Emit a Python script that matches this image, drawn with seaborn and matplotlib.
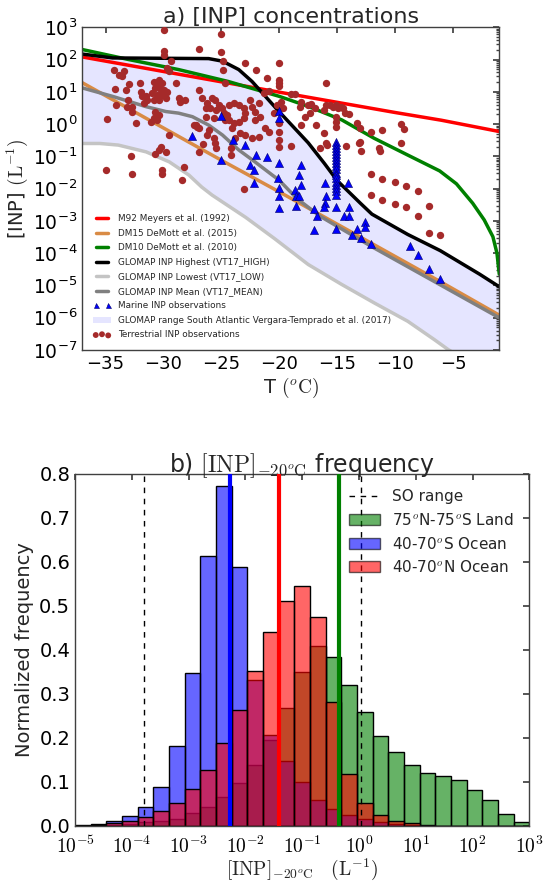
import numpy as np
import matplotlib
matplotlib.use("Agg")
import matplotlib.pyplot as plt
import seaborn as sns
from matplotlib.lines import Line2D
from matplotlib.patches import Patch
from matplotlib.ticker import FixedLocator, LogLocator, NullLocator, NullFormatter

# ---------------- panel a: parameterisation curves (T in degC, log10 [INP] in L^-1) ----------------
m92_T = [-37, -30, -20, -10, -6, -1]
m92_log = [2.08, 1.63, 0.99, 0.36, 0.12, -0.23]

dm15_T = [-37, -30, -25, -20, -15, -10, -6, -1]
dm15_log = [1.28, -0.12, -1.12, -2.10, -3.10, -4.10, -4.90, -5.92]

dm10_T = [-37, -33, -28.7, -24.4, -20, -17.5, -14.6, -11.8, -8.9, -6.15, -4.7, -3.3, -2.3, -1.55, -1.2, -1.0]
dm10_log = [2.31, 2.0, 1.69, 1.32, 0.86, 0.55, 0.13, -0.44, -0.96, -1.45, -1.85, -2.45, -2.97, -3.49, -4.0, -4.65]

high_T = [-37, -34.4, -26.1, -24.9, -23.5, -22.35, -21.2, -20.1, -17.5, -16.1, -15.0, -13.0, -12.0, -8.9, -6.1, -2.7, -1.0]
high_log = [2.17, 2.05, 2.03, 1.95, 1.69, 1.32, 0.86, 0.42, -0.58, -1.22, -1.75, -2.45, -2.79, -3.42, -3.92, -4.65, -5.04]

low_T = [-37, -35.5, -33.9, -31.5, -29.5, -27.8, -26.7, -25.8, -22.9, -20.4, -17.5, -14.6, -11.8, -8.9, -6.6, -5.4, -3.0, -1.0]
low_log = [-0.60, -0.60, -0.65, -0.86, -1.17, -1.58, -1.95, -2.20, -2.89, -3.55, -4.35, -4.97, -5.54, -6.11, -6.68, -6.99, -7.50, -7.90]

mean_T = [-37, -34.4, -31.5, -29.8, -28.7, -27.5, -26.1, -24.9, -23.5, -22.1, -20.6, -20.0, -18.5, -16.5, -12, -6, -1]
mean_log = [1.12, 0.86, 0.54, 0.39, 0.34, 0.23, -0.03, -0.34, -0.80, -1.17, -1.58, -1.74, -2.30, -2.85, -3.80, -5.00, -6.00]

# ---------------- panel a: observations ----------------
terr_T = [
    -34.86, -34.94, -34.19, -34.14, -33.85, -33.62, -33.42, -34.28, -33.27, -32.99,
    -33.04, -33.13, -32.76, -32.70, -32.76, -32.78, -32.35, -32.04, -31.98, -31.84,
    -31.55, -31.69, -31.40, -30.83, -30.40, -30.11, -30.69, -30.25, -29.97, -30.54,
    -30.11, -30.40, -30.83, -29.82, -29.68, -30.97, -30.40, -30.69, -30.40, -30.83,
    -30.54, -31.12, -29.68, -29.39, -29.53, -28.96, -28.67, -28.53, -28.10, -29.53,
    -30.25, -30.40, -30.69, -29.82, -30.17, -30.11, -28.24, -28.38, -26.95, -26.66,
    -26.37, -26.23, -26.31, -27.23, -27.09, -26.95, -27.38, -26.95, -26.60, -26.23,
    -26.08, -25.80, -25.94, -25.51, -25.45, -25.65, -25.65, -25.51, -25.45, -24.99,
    -24.99, -24.88, -24.88, -24.65, -25.22, -24.93, -24.79, -24.65, -24.36, -23.93,
    -23.50, -23.06, -22.92, -23.06, -23.50, -23.93, -24.36, -24.50, -24.07, -24.21,
    -24.21, -23.78, -23.35, -22.92, -22.49, -22.34, -22.06, -21.77, -21.63, -22.06,
    -22.98, -22.00, -21.05, -22.34, -21.77, -21.19, -20.91, -20.48, -20.19, -20.85,
    -21.34, -29.97, -29.97, -29.97, -26.95,
    -20.04, -20.04, -20.04, -20.04, -15.99, -18.95, -18.66, -19.81, -19.67, -20.04,
    -20.04, -20.04, -20.04, -19.01, -18.09, -17.51, -17.23, -16.94, -17.37, -17.80,
    -18.23, -18.09, -16.80, -16.13, -15.93, -15.64, -15.36, -15.07, -14.93, -14.64,
    -14.49, -14.35, -14.01, -15.07, -15.07, -15.07, -16.13, -15.93, -15.85, -16.51,
    -14.26, -13.26, -13.06, -13.14, -13.00, -12.91, -12.05, -11.10, -11.42, -11.33,
    -9.46, -9.23, -9.46, -12.05, -11.10, -10.04, -9.03,
    -12.05, -11.10, -10.04, -9.03, -8.02, -8.02, -7.07, -7.10, -6.10, -23.01,
]
terr_log = [
    0.16, -1.43, 1.10, 0.58, 1.53, 1.48, 1.63, 1.67, 1.06, 1.24,
    0.75, 0.545, 0.39, 0.52, -1.55, -0.99, 0.046, 1.27, 1.01, 0.86,
    0.86, 0.65, 0.75, 1.32, 1.38, 1.27, 1.12, 1.06, 1.06, 0.91,
    0.91, 0.75, 0.75, 0.80, 1.01, 0.96, 1.22, 0.39, 0.285, 0.18,
    0.13, 0.08, 1.74, 1.95, 1.63, 1.27, 0.80, 0.70, 0.75, -0.34,
    -0.70, -0.80, -0.94, -0.86, -1.43, -1.55, -1.32, -1.74, 1.06, 0.80,
    0.49, 0.65, 0.23, -0.03, -0.08, -0.13, -0.03, -0.86, -0.63, -0.34,
    -0.18, 0.80, 0.49, 0.75, 0.44, 0.18, -0.44, -0.60, -0.75, 2.80,
    2.24, 1.97, 1.69, 1.27, 0.60, 0.49, 0.34, 0.13, 0.60, 0.65,
    0.60, 0.49, 0.34, 0.18, 0.08, 0.025, 0.13, 0.285, -0.13, -0.75,
    -0.96, -0.44, -0.29, -0.34, 0.75, 0.545, 0.39, 0.65, 0.23, 0.13,
    1.89, 1.67, 1.43, -0.44, -0.39, -0.13, -0.23, 0.34, 0.60, 1.03,
    0.96, 2.93, 2.26, 2.15, 2.34,
    1.89, 1.38, 1.27, 1.17, 1.27, 0.93, 0.93, 0.70, 0.49, 0.025,
    -0.23, -0.49, -0.72, -0.68, 0.68, 0.60, 0.62, 0.51, 0.34, 0.23,
    0.545, -0.03, -0.03, 0.44, 0.58, 0.58, 0.545, 0.60, 0.49, 0.545,
    0.49, 0.34, 0.305, 0.23, 0.08, -0.08, -0.29, -0.60, -0.65, -0.73,
    -0.67, 0.025, -0.13, -0.60, -0.55, -0.84, -0.23, -0.18, -0.75, -0.83,
    -0.005, -0.15, -0.60, -1.55, -1.71, -1.79, -1.92,
    -2.21, -2.35, -2.48, -2.56, -2.08, -2.84, -2.54, -3.38, -3.43, -2.01,
]

marine_T = [
    -27.52, -24.99, -24.01, -22.98, -22.00, -21.05, -24.99, -22.55, -22.20, -20.04,
    -22.20, -20.10, -20.04, -20.04, -18.09, -18.32, -18.09, -16.08, -14.06,
    -15.07, -15.07, -15.07, -15.07, -15.07, -15.07, -15.07, -15.07, -15.07,
    -15.07, -15.07, -15.07, -15.07, -15.07, -15.07, -15.07, -15.07, -15.07,
    -20.04, -20.04, -20.04, -18.66, -18.52, -18.32, -18.52, -16.99, -16.71, -17.03,
    -15.93, -16.08, -16.16, -15.07, -15.07, -14.41, -14.01, -14.01, -13.72, -13.26,
    -12.91, -12.63, -12.63, -12.05, -8.74, -8.02, -7.07, -6.10,
]
marine_log = [
    -0.37, 0.265, -0.49, -0.65, -0.96, -1.01, -1.12, -1.27, -1.43, -1.22,
    -1.84, -1.67, 0.40, 0.18, -1.27, -1.58, -1.90, -1.84, -1.84,
    -0.55, -0.64, -0.73, -0.83, -0.92, -1.02, -1.12, -1.21, -1.30,
    -1.40, -1.50, -1.59, -1.68, -1.78, -1.88, -1.97, -2.08, -2.20,
    -1.98, -2.22, -2.61, -2.04, -2.22, -2.22, -2.53, -2.63, -2.84, -3.28,
    -2.22, -2.43, -2.56, -2.56, -3.26, -2.84, -2.56, -2.84, -3.43, -3.26,
    -3.52, -3.02, -3.20, -3.72, -3.78, -4.06, -4.48, -4.79,
]

# ---------------- panel b: normalised frequency per log-spaced bin (29 bins, 1e-5 .. 1e3) ----------------
land_freq = [0.001, 0.001, 0.002, 0.004, 0.0098, 0.011, 0.016, 0.030, 0.042, 0.065,
             0.097, 0.138, 0.195, 0.269, 0.349, 0.408, 0.383, 0.320, 0.258, 0.205,
             0.167, 0.138, 0.120, 0.114, 0.104, 0.081, 0.059, 0.028, 0.008]
socean_freq = [0.003, 0.0045, 0.011, 0.0227, 0.044, 0.089, 0.182, 0.348, 0.614, 0.773,
               0.588, 0.332, 0.206, 0.147, 0.099, 0.059, 0.0386, 0.025, 0.015, 0.008,
               0.004, 0.002, 0.001, 0.0, 0.0, 0.0, 0.0, 0.0, 0.0]
nocean_freq = [0.001, 0.003, 0.0068, 0.0114, 0.0197, 0.033, 0.053, 0.084, 0.127, 0.188,
               0.264, 0.353, 0.441, 0.511, 0.546, 0.476, 0.281, 0.119, 0.0515, 0.024,
               0.011, 0.006, 0.003, 0.001, 0.0, 0.0, 0.0, 0.0, 0.0]
land_line = 0.44
socean_line = 5.3e-3
nocean_line = 0.039
so_range = [1.66e-4, 1.1]

# ---------------- style ----------------
sns.set_theme(style="white")
plt.rcParams.update({
    "font.family": ["DejaVu Sans"],
    "mathtext.fontset": "cm",
    "xtick.direction": "in",
    "ytick.direction": "in",
    "xtick.top": True,
    "ytick.right": True,
    "axes.edgecolor": "0.25",
    "axes.linewidth": 1.0,
    "xtick.color": "0.25",
    "ytick.color": "0.25",
    "xtick.labelcolor": "black",
    "ytick.labelcolor": "black",
    "xtick.major.size": 4,
    "ytick.major.size": 4,
    "xtick.minor.size": 2,
    "ytick.minor.size": 2,
})

fig = plt.figure(figsize=(5.44, 8.83), dpi=100)
ax1 = fig.add_axes([0.1515, 0.6036, 0.7663, 0.3655])
ax2 = fig.add_axes([0.1379, 0.0646, 0.8351, 0.3986])

# ---------------- panel a ----------------
ax1.set_yscale("log")
fill_T = np.concatenate([np.array(high_T), np.array(low_T)[::-1]])
fill_v = np.concatenate([10 ** np.array(high_log), 10 ** np.array(low_log)[::-1]])
ax1.fill(fill_T, fill_v, color="blue", alpha=0.1, lw=0, zorder=0)

line_specs = [
    (m92_T, m92_log, "red", "M92 Meyers et al. (1992)"),
    (dm15_T, dm15_log, "#d98b45", "DM15 DeMott et al. (2015)"),
    (dm10_T, dm10_log, "green", "DM10 DeMott et al. (2010)"),
    (high_T, high_log, "black", "GLOMAP INP Highest (VT17_HIGH)"),
    (low_T, low_log, "#c4c4c4", "GLOMAP INP Lowest (VT17_LOW)"),
    (mean_T, mean_log, "#808080", "GLOMAP INP Mean (VT17_MEAN)"),
]
for tt, lv, col, lab in line_specs:
    sns.lineplot(x=tt, y=10 ** np.array(lv), ax=ax1, color=col, lw=2.5,
                 sort=False, estimator=None, legend=False, zorder=2)

sns.scatterplot(x=terr_T, y=10 ** np.array(terr_log), ax=ax1, color="brown",
                s=28, linewidth=0, legend=False, zorder=3)
terr_coll = ax1.collections[-1]
sns.scatterplot(x=marine_T, y=10 ** np.array(marine_log), ax=ax1, color="blue",
                marker="^", s=34, edgecolor="#000066", linewidth=0.4, legend=False, zorder=4)

ax1.set_xlim(-37, -1)
ax1.set_ylim(1e-7, 1e3)
ax1.xaxis.set_major_locator(FixedLocator([-35, -30, -25, -20, -15, -10, -5]))
ax1.yaxis.set_major_locator(LogLocator(base=10, numticks=20))
ax1.yaxis.set_minor_locator(LogLocator(base=10, subs=np.arange(2, 10), numticks=20))
ax1.yaxis.set_minor_formatter(NullFormatter())
yt = [10.0 ** k for k in range(-7, 4)]
ax1.set_yticks(yt)
ax1.set_yticklabels([r"$\mathregular{10^{%d}}$" % k for k in range(-7, 4)])
ax1.tick_params(axis="x", labelsize=13)
ax1.tick_params(axis="y", labelsize=13.5)
ax1.set_title("a) [INP] concentrations", fontsize=16, pad=3)
ax1.set_xlabel(r"T $(^o\mathrm{C})$", fontsize=14, labelpad=2)
ax1.set_ylabel(r"[INP] $(\mathrm{L}^{-1})$", fontsize=14, labelpad=2)

handles = [Line2D([0], [0], color=c, lw=2.5) for _, _, c, _ in line_specs]
labels = [lab for _, _, _, lab in line_specs]
handles.append(Line2D([0], [0], marker="^", ls="none", color="blue",
                      markeredgecolor="#000066", markeredgewidth=0.4, markersize=4.5))
labels.append("Marine INP observations")
handles.append(Patch(facecolor="blue", alpha=0.1, edgecolor="none"))
labels.append("GLOMAP range South Atlantic Vergara-Temprado et al. (2017)")
handles.append(terr_coll)
labels.append("Terrestrial INP observations")
ax1.legend(handles, labels, loc="lower left", frameon=False, fontsize=6.4,
           numpoints=2, scatterpoints=3, handlelength=2.0, labelspacing=0.62,
           borderaxespad=0.8, markerscale=0.8)

# ---------------- panel b ----------------
nb = len(land_freq)
log_edges = np.linspace(-5, 3, nb + 1)
centers = 10 ** (0.5 * (log_edges[:-1] + log_edges[1:]))
for freq, col in [(land_freq, "green"), (socean_freq, "blue"), (nocean_freq, "red")]:
    sns.histplot(x=centers, weights=freq, bins=nb, binrange=(-5, 3), log_scale=True,
                 stat="count", element="bars", color=col, alpha=0.6,
                 edgecolor="black", linewidth=1.0, ax=ax2)

ax2.axvline(so_range[0], color="black", lw=1, dashes=(4, 4), zorder=5)
ax2.axvline(so_range[1], color="black", lw=1, dashes=(4, 4), zorder=5)
ax2.axvline(socean_line, color="blue", lw=3, zorder=6)
ax2.axvline(nocean_line, color="red", lw=3, zorder=6)
ax2.axvline(land_line, color="green", lw=3, zorder=6)

ax2.set_xlim(1e-5, 1e3)
ax2.set_ylim(0, 0.8)
xt = [10.0 ** k for k in range(-5, 4)]
ax2.set_xticks(xt)
ax2.set_xticklabels([r"$10^{%d}$" % k for k in range(-5, 4)])
ax2.xaxis.set_minor_locator(NullLocator())
ax2.set_yticks(np.arange(0, 0.81, 0.1))
ax2.set_yticklabels(["%.1f" % v for v in np.arange(0, 0.81, 0.1)])
ax2.tick_params(axis="x", labelsize=14, pad=7)
ax2.tick_params(axis="y", labelsize=14)
ax2.set_title(r"b) $[\mathrm{INP}]_{-20^o\mathrm{C}}$ frequency", fontsize=17, pad=1)
ax2.set_xlabel(r"$[\mathrm{INP}]_{-20^o\mathrm{C}}\quad(\mathrm{L}^{-1})$", fontsize=14, labelpad=0)
ax2.set_ylabel("Normalized frequency", fontsize=14)

h2 = [Line2D([0], [0], color="black", lw=1, dashes=(4, 4)),
      Patch(facecolor="green", alpha=0.6, edgecolor="black"),
      Patch(facecolor="blue", alpha=0.6, edgecolor="black"),
      Patch(facecolor="red", alpha=0.6, edgecolor="black")]
l2 = ["SO range", r"75$^o$N-75$^o$S Land", r"40-70$^o$S Ocean", r"40-70$^o$N Ocean"]
ax2.legend(h2, l2, loc="upper right", frameon=False, fontsize=11, borderaxespad=0.6)

fig.savefig("out.png", dpi=100)
